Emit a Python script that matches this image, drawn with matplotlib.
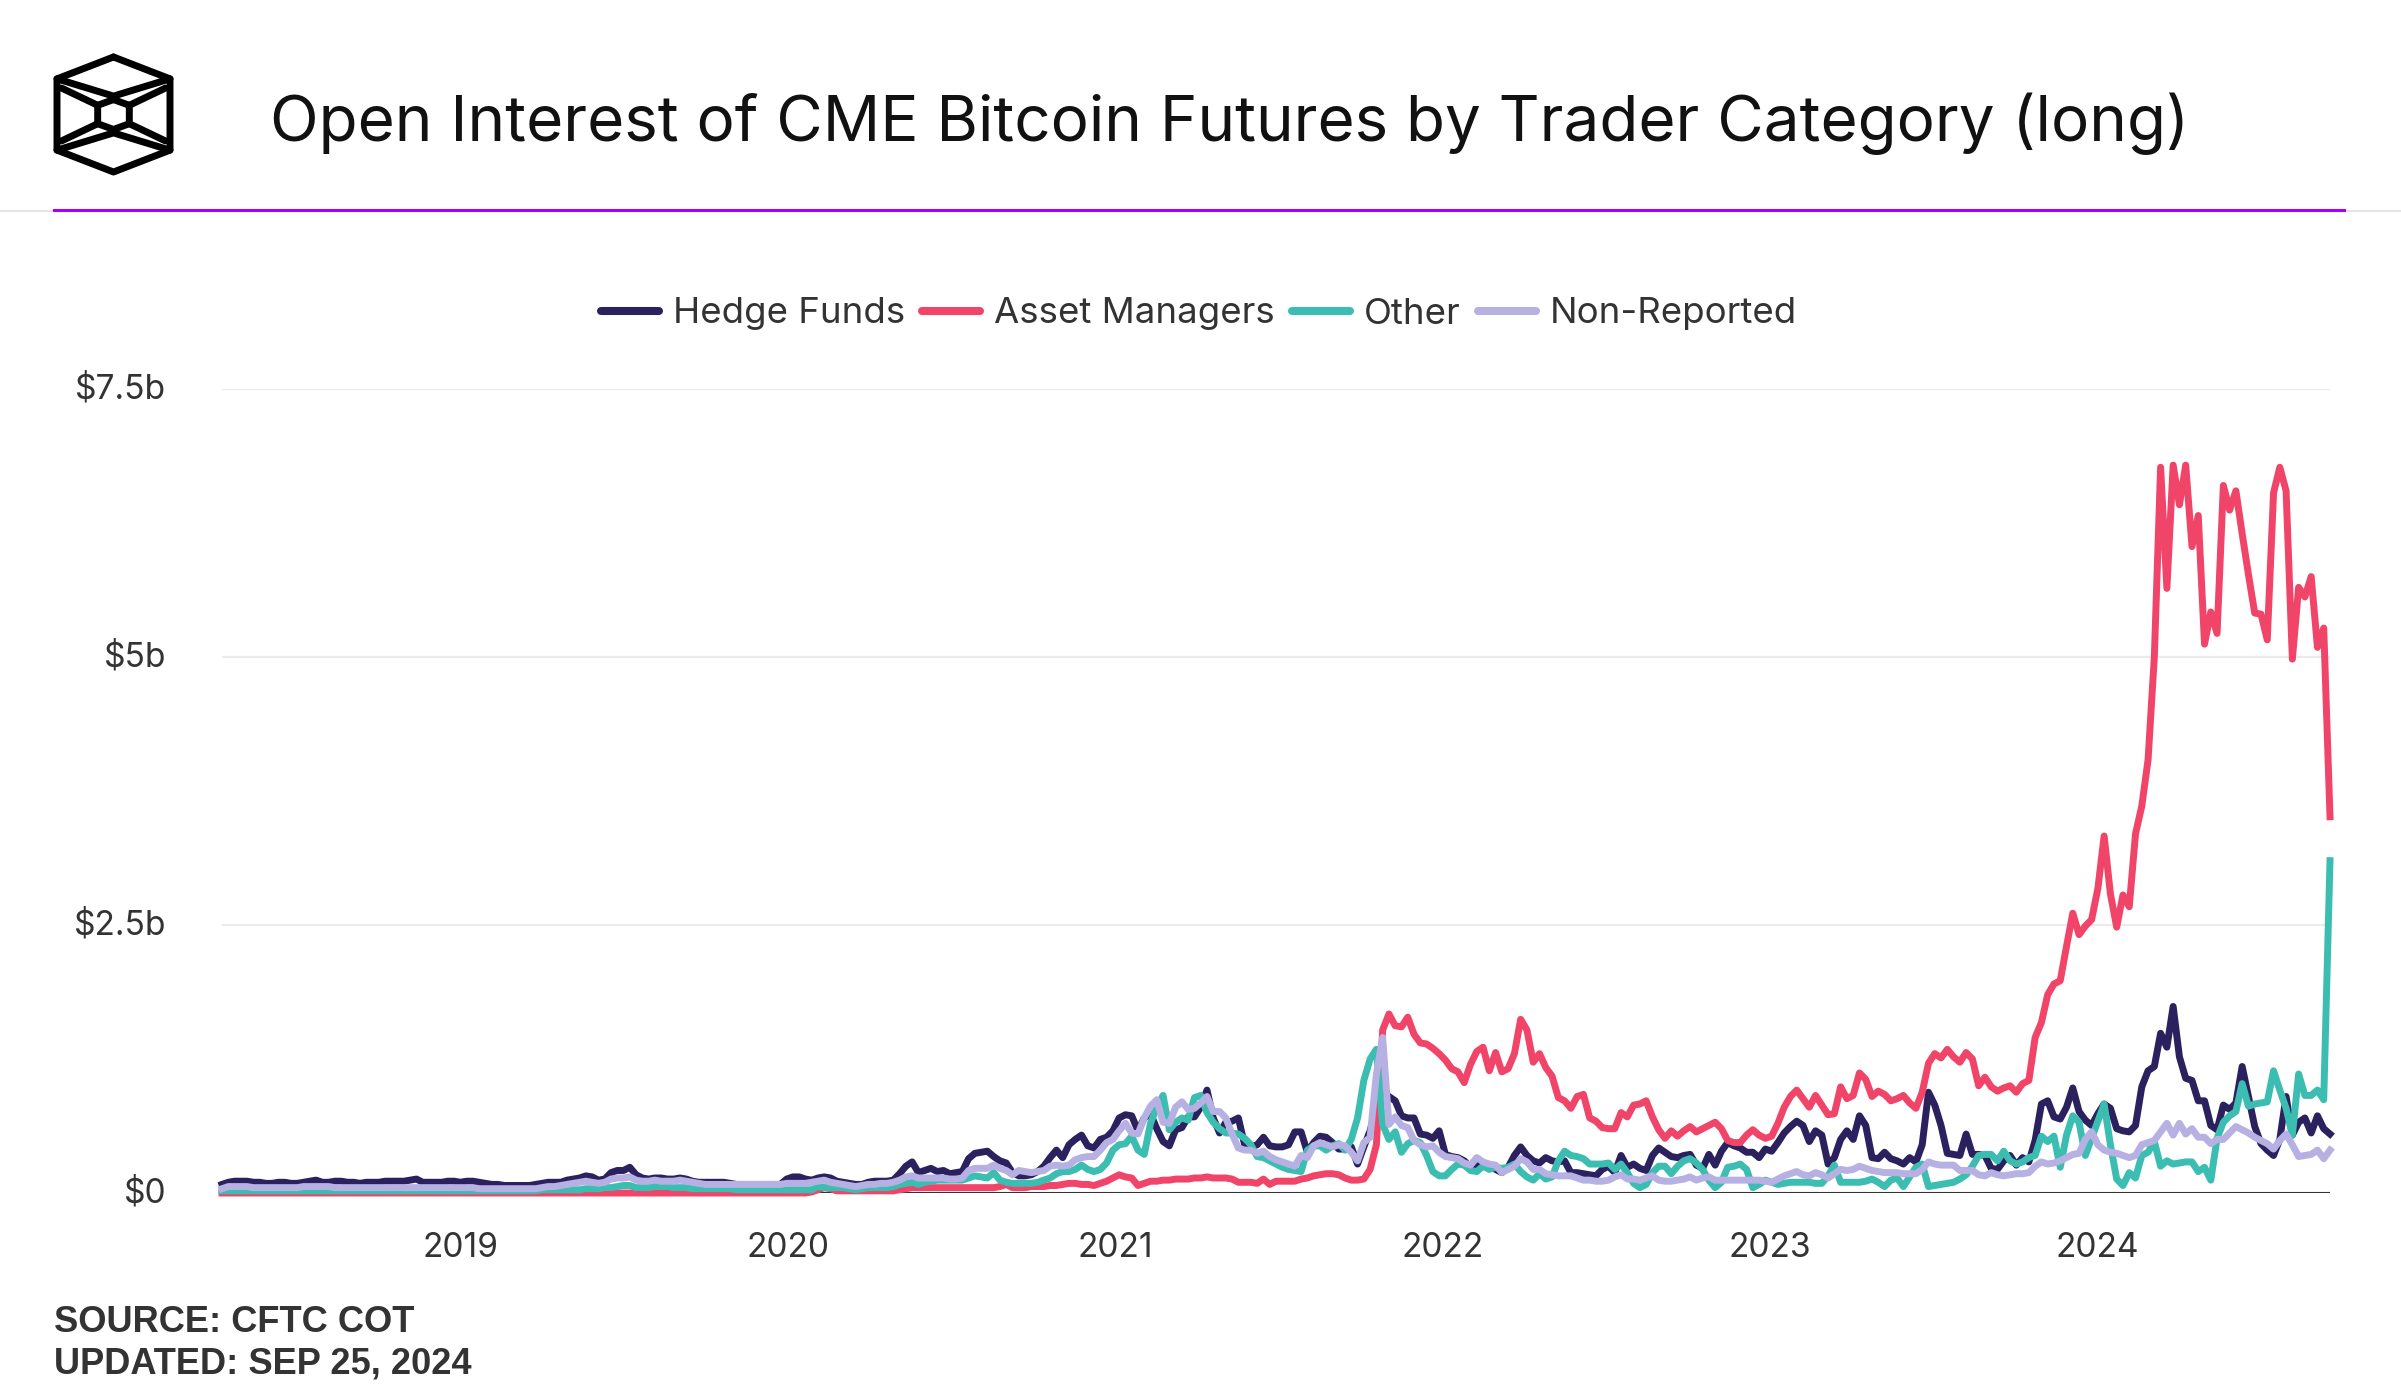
import pandas as pd
import matplotlib
matplotlib.use('Agg')
import matplotlib.pyplot as plt
import matplotlib.dates as mdates
from matplotlib.lines import Line2D

plt.rcParams['font.family'] = ['Inter', 'DejaVu Sans']

# weekly CFTC report dates (Tuesdays)
weeks = pd.date_range('2018-04-10', '2024-09-17', freq='7D')

# open interest, long side, in $ billions
hedge_funds = [
    0.08, 0.10, 0.11, 0.11, 0.11, 0.10, 0.10, 0.09, 0.09, 0.10,
    0.10, 0.09, 0.09, 0.10, 0.11, 0.12, 0.10, 0.10, 0.11, 0.11,
    0.10, 0.10, 0.09, 0.10, 0.10, 0.10, 0.11, 0.11, 0.11, 0.11,
    0.12, 0.13, 0.10, 0.10, 0.10, 0.10, 0.11, 0.11, 0.10, 0.11,
    0.11, 0.10, 0.09, 0.08, 0.08, 0.07, 0.07, 0.07, 0.07, 0.07,
    0.08, 0.09, 0.10, 0.10, 0.10, 0.12, 0.13, 0.14, 0.16, 0.15,
    0.12, 0.13, 0.19, 0.21, 0.21, 0.24, 0.17, 0.14, 0.13, 0.14,
    0.14, 0.13, 0.13, 0.14, 0.13, 0.11, 0.10, 0.10, 0.10, 0.10,
    0.10, 0.09, 0.08, 0.08, 0.08, 0.08, 0.08, 0.08, 0.08, 0.08,
    0.13, 0.15, 0.15, 0.13, 0.12, 0.14, 0.15, 0.14, 0.11, 0.10,
    0.09, 0.08, 0.08, 0.10, 0.11, 0.11, 0.11, 0.12, 0.18, 0.25,
    0.29, 0.19, 0.21, 0.23, 0.20, 0.21, 0.18, 0.19, 0.20, 0.32,
    0.37, 0.38, 0.39, 0.34, 0.30, 0.28, 0.19, 0.16, 0.16, 0.17,
    0.20, 0.25, 0.33, 0.40, 0.33, 0.45, 0.50, 0.54, 0.44, 0.42,
    0.50, 0.52, 0.58, 0.70, 0.73, 0.72, 0.58, 0.70, 0.74, 0.60,
    0.48, 0.44, 0.59, 0.61, 0.71, 0.71, 0.80, 0.96, 0.70, 0.56,
    0.66, 0.67, 0.70, 0.45, 0.43, 0.45, 0.52, 0.44, 0.43, 0.43,
    0.45, 0.57, 0.57, 0.38, 0.47, 0.53, 0.52, 0.47, 0.41, 0.41,
    0.43, 0.27, 0.43, 0.58, 0.80, 0.95, 0.90, 0.86, 0.72, 0.70,
    0.70, 0.55, 0.54, 0.51, 0.58, 0.36, 0.34, 0.33, 0.30, 0.24,
    0.26, 0.27, 0.25, 0.22, 0.19, 0.24, 0.35, 0.43, 0.35, 0.30,
    0.28, 0.33, 0.30, 0.29, 0.30, 0.19, 0.19, 0.18, 0.17, 0.16,
    0.22, 0.25, 0.19, 0.35, 0.24, 0.27, 0.23, 0.21, 0.35, 0.42,
    0.38, 0.34, 0.33, 0.35, 0.36, 0.26, 0.23, 0.36, 0.26, 0.39,
    0.47, 0.44, 0.42, 0.38, 0.38, 0.33, 0.41, 0.39, 0.47, 0.56,
    0.62, 0.67, 0.63, 0.48, 0.58, 0.54, 0.27, 0.33, 0.50, 0.58,
    0.50, 0.72, 0.63, 0.33, 0.32, 0.38, 0.32, 0.30, 0.27, 0.33,
    0.29, 0.45, 0.94, 0.82, 0.63, 0.37, 0.36, 0.35, 0.55, 0.36,
    0.36, 0.35, 0.23, 0.22, 0.30, 0.35, 0.26, 0.33, 0.29, 0.49,
    0.83, 0.86, 0.71, 0.69, 0.80, 0.98, 0.76, 0.68, 0.63, 0.74,
    0.83, 0.79, 0.60, 0.58, 0.57, 0.63, 0.99, 1.14, 1.18, 1.49,
    1.36, 1.74, 1.27, 1.07, 1.05, 0.86, 0.86, 0.63, 0.59, 0.82,
    0.78, 0.84, 1.18, 0.90, 0.62, 0.46, 0.40, 0.35, 0.50, 0.90,
    0.54, 0.66, 0.70, 0.56, 0.72, 0.60, 0.55,
]

asset_managers = [
    0.00, 0.00, 0.00, 0.00, 0.00, 0.00, 0.00, 0.00, 0.00, 0.00,
    0.00, 0.00, 0.00, 0.00, 0.00, 0.00, 0.00, 0.00, 0.00, 0.00,
    0.00, 0.00, 0.00, 0.00, 0.00, 0.00, 0.00, 0.00, 0.00, 0.00,
    0.00, 0.00, 0.00, 0.00, 0.00, 0.00, 0.00, 0.00, 0.00, 0.00,
    0.00, 0.00, 0.00, 0.00, 0.00, 0.00, 0.00, 0.00, 0.00, 0.00,
    0.00, 0.00, 0.00, 0.00, 0.00, 0.00, 0.00, 0.00, 0.00, 0.00,
    0.00, 0.00, 0.00, 0.00, 0.00, 0.00, 0.00, 0.00, 0.00, 0.00,
    0.00, 0.00, 0.00, 0.00, 0.00, 0.00, 0.00, 0.00, 0.00, 0.00,
    0.00, 0.00, 0.00, 0.00, 0.00, 0.00, 0.00, 0.00, 0.00, 0.00,
    0.00, 0.00, 0.00, 0.00, 0.01, 0.03, 0.05, 0.04, 0.02, 0.02,
    0.02, 0.02, 0.02, 0.02, 0.02, 0.02, 0.02, 0.02, 0.03, 0.04,
    0.05, 0.05, 0.05, 0.05, 0.05, 0.05, 0.05, 0.05, 0.05, 0.05,
    0.05, 0.05, 0.05, 0.05, 0.06, 0.08, 0.05, 0.05, 0.05, 0.06,
    0.06, 0.06, 0.07, 0.07, 0.08, 0.09, 0.09, 0.08, 0.08, 0.07,
    0.09, 0.11, 0.14, 0.17, 0.15, 0.14, 0.07, 0.09, 0.11, 0.11,
    0.12, 0.12, 0.13, 0.13, 0.13, 0.14, 0.14, 0.15, 0.14, 0.14,
    0.14, 0.13, 0.10, 0.10, 0.10, 0.09, 0.13, 0.08, 0.11, 0.11,
    0.11, 0.11, 0.13, 0.14, 0.16, 0.17, 0.18, 0.18, 0.17, 0.14,
    0.12, 0.12, 0.13, 0.22, 0.45, 1.52, 1.67, 1.56, 1.55, 1.64,
    1.48, 1.40, 1.39, 1.35, 1.30, 1.24, 1.16, 1.13, 1.03, 1.20,
    1.32, 1.36, 1.14, 1.31, 1.13, 1.16, 1.30, 1.62, 1.52, 1.22,
    1.30, 1.17, 1.09, 0.89, 0.86, 0.79, 0.90, 0.92, 0.70, 0.67,
    0.61, 0.60, 0.60, 0.75, 0.71, 0.82, 0.83, 0.86, 0.71, 0.59,
    0.51, 0.58, 0.53, 0.58, 0.62, 0.57, 0.60, 0.63, 0.66, 0.60,
    0.49, 0.47, 0.47, 0.54, 0.59, 0.54, 0.51, 0.53, 0.65, 0.80,
    0.90, 0.96, 0.88, 0.80, 0.91, 0.82, 0.73, 0.74, 0.99, 0.88,
    0.91, 1.12, 1.06, 0.90, 0.95, 0.92, 0.86, 0.88, 0.91, 0.84,
    0.79, 0.94, 1.21, 1.30, 1.26, 1.34, 1.27, 1.22, 1.31, 1.25,
    1.00, 1.08, 0.99, 0.95, 0.98, 1.00, 0.94, 1.02, 1.05, 1.45,
    1.59, 1.85, 1.95, 1.98, 2.30, 2.61, 2.41, 2.49, 2.55, 2.84,
    3.33, 2.79, 2.48, 2.78, 2.67, 3.35, 3.61, 4.04, 5.00, 6.77,
    5.64, 6.79, 6.42, 6.79, 6.03, 6.32, 5.12, 5.42, 5.22, 6.60,
    6.37, 6.55, 6.15, 5.77, 5.41, 5.40, 5.16, 6.53, 6.77, 6.55,
    4.98, 5.65, 5.56, 5.75, 5.09, 5.27, 3.51,
]

other = [
    0.02, 0.02, 0.02, 0.02, 0.02, 0.02, 0.02, 0.02, 0.02, 0.02,
    0.02, 0.02, 0.02, 0.02, 0.02, 0.02, 0.02, 0.02, 0.02, 0.02,
    0.02, 0.02, 0.02, 0.02, 0.02, 0.02, 0.02, 0.02, 0.02, 0.02,
    0.02, 0.02, 0.02, 0.02, 0.02, 0.02, 0.02, 0.02, 0.02, 0.02,
    0.02, 0.02, 0.02, 0.02, 0.02, 0.02, 0.02, 0.02, 0.02, 0.02,
    0.02, 0.03, 0.03, 0.03, 0.03, 0.03, 0.03, 0.03, 0.04, 0.04,
    0.04, 0.05, 0.05, 0.06, 0.07, 0.07, 0.05, 0.05, 0.05, 0.06,
    0.06, 0.06, 0.05, 0.05, 0.05, 0.04, 0.04, 0.04, 0.04, 0.04,
    0.04, 0.04, 0.03, 0.03, 0.03, 0.03, 0.03, 0.03, 0.03, 0.03,
    0.03, 0.03, 0.03, 0.03, 0.03, 0.06, 0.05, 0.05, 0.05, 0.05,
    0.04, 0.03, 0.04, 0.05, 0.05, 0.05, 0.05, 0.06, 0.08, 0.09,
    0.10, 0.08, 0.10, 0.11, 0.12, 0.12, 0.12, 0.12, 0.12, 0.14,
    0.16, 0.15, 0.14, 0.19, 0.12, 0.10, 0.09, 0.09, 0.09, 0.09,
    0.10, 0.12, 0.14, 0.18, 0.20, 0.20, 0.22, 0.26, 0.22, 0.20,
    0.22, 0.28, 0.40, 0.45, 0.46, 0.53, 0.40, 0.36, 0.65, 0.80,
    0.91, 0.59, 0.66, 0.70, 0.68, 0.89, 0.91, 0.75, 0.66, 0.60,
    0.56, 0.56, 0.55, 0.51, 0.45, 0.34, 0.33, 0.30, 0.27, 0.24,
    0.22, 0.21, 0.20, 0.40, 0.44, 0.44, 0.40, 0.44, 0.46, 0.40,
    0.50, 0.70, 1.05, 1.25, 1.34, 0.64, 0.50, 0.57, 0.38, 0.46,
    0.49, 0.47, 0.35, 0.20, 0.16, 0.16, 0.22, 0.27, 0.26, 0.21,
    0.20, 0.25, 0.22, 0.24, 0.23, 0.24, 0.27, 0.20, 0.15, 0.12,
    0.18, 0.13, 0.15, 0.30, 0.39, 0.35, 0.34, 0.32, 0.27, 0.27,
    0.27, 0.28, 0.22, 0.27, 0.19, 0.09, 0.05, 0.08, 0.19, 0.25,
    0.25, 0.18, 0.25, 0.30, 0.32, 0.28, 0.22, 0.12, 0.05, 0.10,
    0.24, 0.25, 0.27, 0.22, 0.05, 0.08, 0.12, 0.10, 0.08, 0.09,
    0.10, 0.10, 0.10, 0.10, 0.09, 0.09, 0.16, 0.26, 0.10, 0.10,
    0.10, 0.10, 0.11, 0.13, 0.10, 0.06, 0.12, 0.14, 0.06, 0.15,
    0.24, 0.27, 0.06, 0.07, 0.08, 0.09, 0.10, 0.13, 0.17, 0.25,
    0.35, 0.36, 0.36, 0.30, 0.39, 0.30, 0.27, 0.29, 0.33, 0.35,
    0.53, 0.48, 0.53, 0.24, 0.54, 0.72, 0.66, 0.35, 0.51, 0.67,
    0.83, 0.45, 0.13, 0.07, 0.19, 0.14, 0.35, 0.38, 0.48, 0.25,
    0.30, 0.27, 0.28, 0.29, 0.29, 0.20, 0.24, 0.12, 0.51, 0.66,
    0.72, 0.76, 1.02, 0.81, 0.83, 0.84, 0.85, 1.14, 0.96, 0.79,
    0.54, 1.11, 0.91, 0.91, 0.96, 0.87, 3.10,
]

non_reported = [
    0.04, 0.06, 0.06, 0.06, 0.06, 0.05, 0.05, 0.05, 0.05, 0.05,
    0.05, 0.05, 0.05, 0.06, 0.06, 0.06, 0.06, 0.06, 0.05, 0.05,
    0.05, 0.05, 0.05, 0.05, 0.05, 0.05, 0.05, 0.05, 0.05, 0.05,
    0.05, 0.05, 0.05, 0.05, 0.05, 0.05, 0.05, 0.05, 0.05, 0.05,
    0.05, 0.04, 0.04, 0.04, 0.04, 0.04, 0.04, 0.04, 0.04, 0.04,
    0.04, 0.05, 0.06, 0.06, 0.07, 0.08, 0.09, 0.10, 0.11, 0.10,
    0.09, 0.10, 0.13, 0.14, 0.14, 0.15, 0.12, 0.11, 0.11, 0.12,
    0.11, 0.11, 0.11, 0.12, 0.11, 0.10, 0.09, 0.08, 0.08, 0.08,
    0.08, 0.08, 0.08, 0.08, 0.08, 0.08, 0.08, 0.08, 0.08, 0.08,
    0.09, 0.09, 0.09, 0.09, 0.10, 0.11, 0.12, 0.10, 0.09, 0.08,
    0.07, 0.06, 0.07, 0.08, 0.08, 0.09, 0.09, 0.10, 0.12, 0.15,
    0.16, 0.14, 0.14, 0.14, 0.14, 0.14, 0.13, 0.13, 0.14, 0.21,
    0.23, 0.23, 0.23, 0.26, 0.23, 0.21, 0.17, 0.21, 0.20, 0.19,
    0.20, 0.21, 0.25, 0.26, 0.25, 0.26, 0.31, 0.33, 0.34, 0.34,
    0.40, 0.47, 0.50, 0.58, 0.65, 0.56, 0.55, 0.70, 0.81, 0.87,
    0.66, 0.65, 0.80, 0.85, 0.78, 0.79, 0.84, 0.90, 0.76, 0.76,
    0.70, 0.55, 0.42, 0.40, 0.40, 0.37, 0.39, 0.34, 0.31, 0.29,
    0.27, 0.25, 0.35, 0.33, 0.44, 0.47, 0.45, 0.43, 0.45, 0.44,
    0.38, 0.30, 0.47, 0.52, 1.11, 1.45, 0.64, 0.71, 0.63, 0.61,
    0.49, 0.45, 0.43, 0.44, 0.38, 0.34, 0.33, 0.32, 0.28, 0.26,
    0.33, 0.29, 0.27, 0.26, 0.19, 0.22, 0.25, 0.32, 0.29, 0.22,
    0.22, 0.18, 0.17, 0.16, 0.16, 0.16, 0.14, 0.12, 0.12, 0.11,
    0.11, 0.12, 0.15, 0.17, 0.13, 0.13, 0.12, 0.14, 0.16, 0.12,
    0.11, 0.11, 0.12, 0.13, 0.15, 0.12, 0.14, 0.15, 0.12, 0.12,
    0.12, 0.12, 0.12, 0.12, 0.12, 0.12, 0.11, 0.10, 0.13, 0.16,
    0.18, 0.20, 0.17, 0.16, 0.19, 0.17, 0.14, 0.18, 0.22, 0.21,
    0.22, 0.25, 0.23, 0.21, 0.20, 0.19, 0.19, 0.19, 0.18, 0.18,
    0.18, 0.22, 0.29, 0.27, 0.26, 0.26, 0.26, 0.21, 0.21, 0.21,
    0.17, 0.16, 0.19, 0.17, 0.16, 0.17, 0.18, 0.18, 0.19, 0.25,
    0.29, 0.27, 0.28, 0.30, 0.33, 0.36, 0.37, 0.50, 0.57, 0.45,
    0.40, 0.38, 0.37, 0.35, 0.33, 0.35, 0.45, 0.47, 0.49, 0.57,
    0.65, 0.54, 0.65, 0.55, 0.60, 0.52, 0.52, 0.46, 0.50, 0.50,
    0.56, 0.62, 0.59, 0.56, 0.52, 0.49, 0.46, 0.41, 0.49, 0.55,
    0.45, 0.34, 0.35, 0.36, 0.40, 0.32, 0.40,
]

labels = ['Hedge Funds', 'Asset Managers', 'Other', 'Non-Reported']
colors = ['#2a215e', '#f04468', '#3cbdb1', '#b7b0e2']
series = [hedge_funds, asset_managers, other, non_reported]

yticks = [0, 2.5, 5, 7.5]
ytick_labels = ['$0', '$2.5b', '$5b', '$7.5b']
years = [2019, 2020, 2021, 2022, 2023, 2024]

W, H = 2401, 1400
fig = plt.figure(figsize=(W / 100, H / 100), dpi=100)
renderer = fig.canvas.get_renderer()


def fit(txt, target_px):
    w = txt.get_window_extent(renderer=renderer).width
    txt.set_fontsize(txt.get_fontsize() * target_px / w)
    return txt.get_fontsize()


def probe_size(s, target_px, **kw):
    t = fig.text(0, 0, s, fontsize=20, **kw)
    size = fit(t, target_px)
    t.remove()
    return size


# header: logo, title, rule
logo = fig.add_axes([57 / W, 1 - 172 / H, 113 / W, 115 / H])
logo.set_xlim(0, 1)
logo.set_ylim(1, 0)
logo.axis('off')
shapes = [
    [(0.5, 0.0), (1.0, 0.19), (1.0, 0.81), (0.5, 1.0), (0.0, 0.81), (0.0, 0.19), (0.5, 0.0)],
    [(0.0, 0.19), (0.5, 0.34), (1.0, 0.19)],
    [(0.0, 0.81), (0.5, 0.66), (1.0, 0.81)],
    [(0.04, 0.27), (0.36, 0.42)], [(0.96, 0.27), (0.64, 0.42)],
    [(0.04, 0.73), (0.36, 0.58)], [(0.96, 0.73), (0.64, 0.58)],
    [(0.5, 0.37), (0.64, 0.42), (0.64, 0.58), (0.5, 0.63), (0.36, 0.58), (0.36, 0.42), (0.5, 0.37)],
]
for pts in shapes:
    xs, ys = zip(*pts)
    logo.plot(xs, ys, color='#000000', lw=5, solid_joinstyle='round',
              solid_capstyle='round', clip_on=False)

title = fig.text(270 / W, 1 - 124 / H,
                 'Open Interest of CME Bitcoin Futures by Trader Category (long)',
                 ha='left', va='center', color='#111111', fontsize=40)
fit(title, 1920)

fig.add_artist(Line2D([0, 1], [1 - 211 / H] * 2, color='#e2dcee', lw=1.2))
fig.add_artist(Line2D([54 / W, 2344 / W], [1 - 210 / H] * 2, color='#a300ff', lw=2.2))

# chart
ax = fig.add_axes([222 / W, 1 - 1193 / H, 2108 / W, 804 / H])
for vals, c in zip(series, colors):
    ax.plot(weeks, vals, color=c, lw=5.0, solid_joinstyle='round', zorder=3, clip_on=False)

ax.set_xlim(weeks[0], weeks[-1])
ax.set_ylim(0, 7.5)
ax.set_yticks(yticks)
ax.set_yticklabels(ytick_labels)
ax.set_xticks([pd.Timestamp(f'{y}-01-01') for y in years])
ax.xaxis.set_major_formatter(mdates.DateFormatter('%Y'))
for s in ax.spines.values():
    s.set_visible(False)
ax.yaxis.grid(True, color='#ebebeb', lw=1.6, zorder=0)
ax.set_axisbelow(True)
ax.axhline(0, color='#333333', lw=2.2, zorder=2)

tick_size = probe_size('$7.5b', 91)
ax.tick_params(axis='both', length=0, labelsize=tick_size, labelcolor='#333333')
ax.tick_params(axis='y', pad=40)
ax.tick_params(axis='x', pad=28)
for t in ax.get_yticklabels():
    t.set_y(t.get_position()[1])
    t.set_va('center')

# legend
leg_size = probe_size('Non-Reported', 247)
handles = [Line2D([], [], color=c, lw=5.8, solid_capstyle='round') for c in colors]
leg_px = leg_size * 100 / 72
fig.legend(handles, labels, loc='center', bbox_to_anchor=(783 / 1568, 1 - 314 / H),
           ncol=4, frameon=False, fontsize=leg_size, labelcolor='#333333',
           handlelength=58 / leg_px, handletextpad=14 / leg_px,
           columnspacing=17 / leg_px, borderaxespad=0)

# footer
src = fig.text(54 / W, 1 - 1322 / H, 'SOURCE: CFTC COT', ha='left', va='center',
               color='#333333', fontweight='bold', family=['Liberation Sans', 'DejaVu Sans'])
upd = fig.text(54 / W, 1 - 1364 / H, 'UPDATED: SEP 25, 2024', ha='left', va='center',
               color='#333333', fontweight='bold', family=['Liberation Sans', 'DejaVu Sans'])
src.set_fontsize(fit(upd, 418))

fig.savefig('out.png', dpi=100, facecolor='white')
